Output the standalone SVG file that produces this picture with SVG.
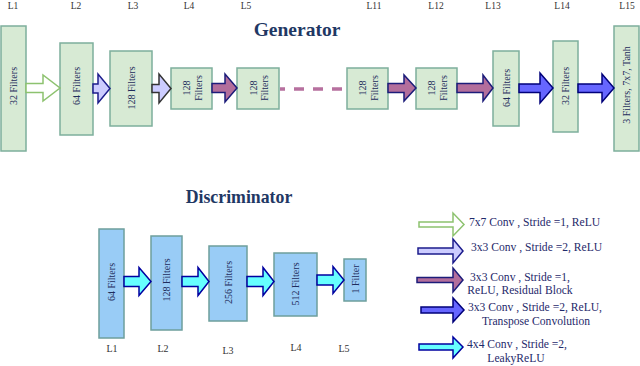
<svg xmlns="http://www.w3.org/2000/svg" width="640" height="366" viewBox="0 0 640 366" font-family="'Liberation Serif', 'DejaVu Serif', serif">
<style>
.gbox{fill:#d7ead4;stroke:#7daf9c;stroke-width:1.5;}
.dbox{fill:#99ccf6;stroke:#6e9f9c;stroke-width:1.5;}
.bt{font-family:'Liberation Serif','DejaVu Serif',serif;font-size:10px;fill:#1f2d5c;text-anchor:middle;dominant-baseline:central;}
.lay{font-family:'Liberation Serif','DejaVu Serif',serif;font-size:9.5px;fill:#333;text-anchor:middle;}
.title{font-family:'Liberation Serif','DejaVu Serif',serif;font-size:19.5px;font-weight:bold;fill:#1f3864;text-anchor:middle;}
.leg{font-family:'Liberation Serif','DejaVu Serif',serif;font-size:11.6px;fill:#1f2a6b;}
.a-green{fill:#fff;stroke:#8dc26f;stroke-width:1.5;}
.a-lav{fill:#ccccff;stroke:#1c1c8c;stroke-width:1.5;}
.a-lav2{fill:#ccccff;stroke:#333;stroke-width:1.5;}
.a-pur{fill:#b36e9c;stroke:#1c1c7a;stroke-width:1.5;}
.a-blue{fill:#6666ff;stroke:#00007a;stroke-width:1.5;}
.a-cyan{fill:#66ffff;stroke:#0000a0;stroke-width:1.5;}
</style>

<g id="gen-layer-labels">
<text class="lay" x="13" y="9">L1</text>
<text class="lay" x="76" y="9">L2</text>
<text class="lay" x="133" y="9">L3</text>
<text class="lay" x="189" y="9">L4</text>
<text class="lay" x="246" y="9">L5</text>
<text class="lay" x="374" y="9">L11</text>
<text class="lay" x="436" y="9">L12</text>
<text class="lay" x="493" y="9">L13</text>
<text class="lay" x="562" y="9">L14</text>
<text class="lay" x="627" y="9">L15</text>
</g>

<text class="title" x="297" y="36">Generator</text>
<text class="title" x="239" y="203" style="font-size:17.8px">Discriminator</text>

<g id="g-l1"><rect class="gbox" x="1" y="26" width="25" height="125"/><text class="bt" transform="translate(13.5,86) rotate(-90)">32 Filters</text></g>
<g id="g-l2"><rect class="gbox" x="60" y="43" width="33" height="92"/><text class="bt" transform="translate(76.5,86) rotate(-90)">64 Filters</text></g>
<g id="g-l3"><rect class="gbox" x="110" y="51" width="42" height="75"/><text class="bt" transform="translate(131,88) rotate(-90)">128 Filters</text></g>
<g id="g-l4"><rect class="gbox" x="171" y="68" width="41" height="41"/><text class="bt" transform="translate(191.5,88) rotate(-90)"><tspan x="0" y="-5.5">128</tspan><tspan x="0" y="6">Filters</tspan></text></g>
<g id="g-l5"><rect class="gbox" x="237" y="68" width="42" height="41"/><text class="bt" transform="translate(258,88) rotate(-90)"><tspan x="0" y="-5.5">128</tspan><tspan x="0" y="6">Filters</tspan></text></g>
<g id="g-l11"><rect class="gbox" x="347" y="68" width="41" height="41"/><text class="bt" transform="translate(367.5,88) rotate(-90)"><tspan x="0" y="-5.5">128</tspan><tspan x="0" y="6">Filters</tspan></text></g>
<g id="g-l12"><rect class="gbox" x="416" y="68" width="41" height="41"/><text class="bt" transform="translate(436.5,88) rotate(-90)"><tspan x="0" y="-5.5">128</tspan><tspan x="0" y="6">Filters</tspan></text></g>
<g id="g-l13"><rect class="gbox" x="493" y="51" width="26" height="75"/><text class="bt" transform="translate(506,88) rotate(-90)">64 Filters</text></g>
<g id="g-l14"><rect class="gbox" x="553" y="41" width="25" height="91"/><text class="bt" transform="translate(565.5,86) rotate(-90)">32 Filters</text></g>
<g id="g-l15"><rect class="gbox" x="614" y="26" width="25" height="125"/><text class="bt" transform="translate(626.5,85) rotate(-90)">3 Filters, 7x7, Tanh</text></g>

<g id="d-l1"><rect class="dbox" x="99" y="229" width="25" height="109"/><text class="bt" transform="translate(111.5,282) rotate(-90)">64 Filters</text></g>
<g id="d-l2"><rect class="dbox" x="151" y="236" width="31" height="94"/><text class="bt" transform="translate(166.5,280) rotate(-90)">128 Filters</text></g>
<g id="d-l3"><rect class="dbox" x="209" y="246" width="38" height="75"/><text class="bt" transform="translate(228,282.5) rotate(-90)">256 Filters</text></g>
<g id="d-l4"><rect class="dbox" x="274" y="253" width="43" height="63"/><text class="bt" transform="translate(295.5,284) rotate(-90)">512 Filters</text></g>
<g id="d-l5"><rect class="dbox" x="344" y="259" width="22" height="42"/><text class="bt" transform="translate(355,279) rotate(-90)">1 Filter</text></g>

<g id="disc-layer-labels">
<text class="lay" x="112" y="352" style="font-size:10px">L1</text>
<text class="lay" x="163" y="352" style="font-size:10px">L2</text>
<text class="lay" x="228" y="354" style="font-size:10px">L3</text>
<text class="lay" x="296" y="351" style="font-size:10px">L4</text>
<text class="lay" x="344" y="352" style="font-size:10px">L5</text>
</g>

<g id="connectors">
<polygon class="a-green" points="26,83.5 43,83.5 43,75 60,88 43,101 43,92.5 26,92.5"/>
<polygon class="a-lav" points="93,84 98,84 98,74 110,88.5 98,103 98,93 93,93"/>
<polygon class="a-lav2" points="152,84.5 159,84.5 159,74 171,88.5 159,103 159,92.5 152,92.5"/>
<polygon class="a-pur" points="212,83.5 225,83.5 225,74 237,88 225,102 225,92.5 212,92.5"/>
<line x1="280" y1="89" x2="346" y2="89" stroke="#b7709f" stroke-width="3.3" stroke-dasharray="10,9" stroke-dashoffset="5"/>
<polygon class="a-pur" points="388,83.5 404,83.5 404,75 416,88 404,101 404,92.5 388,92.5"/>
<polygon class="a-pur" points="457,83.5 483,83.5 483,75 493,88 483,101 483,92.5 457,92.5"/>
<polygon class="a-blue" points="519,84 540,84 540,73 553,88 540,103 540,92.5 519,92.5"/>
<polygon class="a-blue" points="578,84 602,84 602,74 614,88 602,102 602,92.5 578,92.5"/>
<polygon class="a-cyan" points="124,276.5 139,276.5 139,267.5 151,281.5 139,295.5 139,286.5 124,286.5"/>
<polygon class="a-cyan" points="182,276.5 198,276.5 198,267.5 209,281.5 198,295.5 198,286.5 182,286.5"/>
<polygon class="a-cyan" points="247,276.5 263,276.5 263,267.5 274,281.5 263,295.5 263,286.5 247,286.5"/>
<polygon class="a-cyan" points="317,275 333,275 333,266.5 344,280 333,293.5 333,285 317,285"/>
</g>

<g id="legend">
<polygon class="a-green" points="419,222 453,222 453,213 464,224.5 453,236 453,227 419,227"/>
<text class="leg" x="469" y="226">7x7 Conv , Stride =1, ReLU</text>
<polygon class="a-lav" points="418,248 453,248 453,239 463,251 453,263 453,254 418,254"/>
<text class="leg" x="471" y="251">3x3 Conv , Stride =2, ReLU</text>
<polygon class="a-pur" points="417,277.5 453,277.5 453,268 463,280 453,292 453,282.5 417,282.5"/>
<text class="leg" x="520" y="281" text-anchor="middle">3x3 Conv , Stride =1,</text>
<text class="leg" x="520" y="294" text-anchor="middle">ReLU, Residual Block</text>
<polygon class="a-blue" points="421,307 453,307 453,298 464,310 453,322 453,313 421,313"/>
<text class="leg" x="535" y="311" text-anchor="middle">3x3 Conv , Stride =2, ReLU,</text>
<text class="leg" x="536" y="325" text-anchor="middle">Transpose Convolution</text>
<polygon class="a-cyan" points="419,344 453,344 453,337 463,347 453,358 453,350 419,350"/>
<text class="leg" x="517" y="348" text-anchor="middle">4x4 Conv , Stride =2,</text>
<text class="leg" x="516" y="362" text-anchor="middle">LeakyReLU</text>
</g>
</svg>
